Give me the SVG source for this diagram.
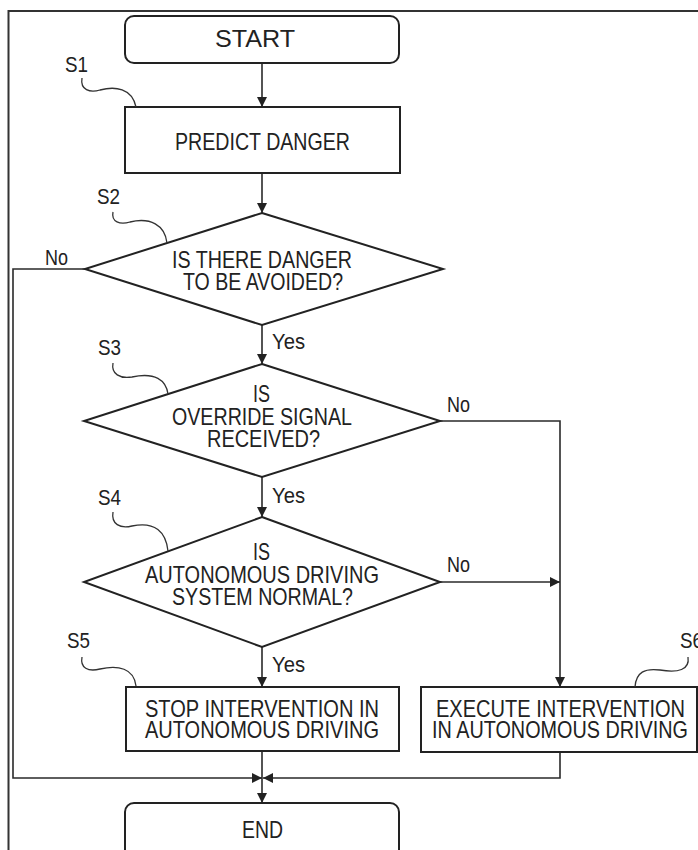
<svg xmlns="http://www.w3.org/2000/svg" width="698" height="850" viewBox="0 0 698 850">
<style>
.shape{fill:#fff;stroke:#222;stroke-width:2}
.conn{fill:none;stroke:#2a2a2a;stroke-width:1.6}
.lead{fill:none;stroke:#333;stroke-width:1.3}
text{font-family:"Liberation Sans",Arial,sans-serif;fill:#222}
.t{font-size:24px}
.l{font-size:22px}
</style>
<defs>
<marker id="arr" viewBox="0 0 10 10" refX="10" refY="5" markerWidth="10" markerHeight="10" markerUnits="userSpaceOnUse" orient="auto">
<path d="M0,0 L10,5 L0,10 Z" fill="#222"/>
</marker>
</defs>
<rect width="698" height="850" fill="#fff"/>
<g id="frame">
<path d="M8.5,850 V11 H698" fill="none" stroke="#333" stroke-width="2"/>
</g>
<g id="connectors">
<path class="conn" d="M262,63 V107" marker-end="url(#arr)"/>
<path class="conn" d="M262,173 V213" marker-end="url(#arr)"/>
<path class="conn" d="M262,325 V364" marker-end="url(#arr)"/>
<path class="conn" d="M262,477 V517" marker-end="url(#arr)"/>
<path class="conn" d="M262,647 V687" marker-end="url(#arr)"/>
<path class="conn" d="M85,269 H13 V778 H262" marker-end="url(#arr)"/>
<path class="conn" d="M440,421 H560 V687" marker-end="url(#arr)"/>
<path class="conn" d="M440,582 H560" marker-end="url(#arr)"/>
<path class="conn" d="M560,752 V778 H263" marker-end="url(#arr)"/>
<path class="conn" d="M262,751 V803" marker-end="url(#arr)"/>
<text class="l" x="45" y="265" textLength="23" lengthAdjust="spacingAndGlyphs">No</text>
<text class="l" x="272" y="349" textLength="33" lengthAdjust="spacingAndGlyphs">Yes</text>
<text class="l" x="447" y="412" textLength="23" lengthAdjust="spacingAndGlyphs">No</text>
<text class="l" x="272" y="503" textLength="33" lengthAdjust="spacingAndGlyphs">Yes</text>
<text class="l" x="447" y="572" textLength="23" lengthAdjust="spacingAndGlyphs">No</text>
<text class="l" x="272" y="672" textLength="33" lengthAdjust="spacingAndGlyphs">Yes</text>
</g>
<g id="start">
<rect class="shape" x="125" y="16" width="274" height="47" rx="9"/>
<text class="t" x="215" y="47" textLength="80" lengthAdjust="spacingAndGlyphs">START</text>
</g>
<g id="s1">
<rect class="shape" x="125" y="107" width="275" height="66"/>
<text class="t" x="175" y="150" textLength="175" lengthAdjust="spacingAndGlyphs">PREDICT DANGER</text>
<path class="lead" d="M82,78 C80,90 90,93 100,90 C115,86 132,88 136,107"/>
<text class="l" x="65" y="72" textLength="23" lengthAdjust="spacingAndGlyphs">S1</text>
</g>
<g id="s2">
<polygon class="shape" points="262,213 443,269 262,325 85,269"/>
<text class="t" x="172" y="268" textLength="180" lengthAdjust="spacingAndGlyphs">IS THERE DANGER</text>
<text class="t" x="183" y="290" textLength="160" lengthAdjust="spacingAndGlyphs">TO BE AVOIDED?</text>
<path class="lead" d="M113,212 C111,222 120,225 130,222 C150,217 165,225 167,243"/>
<text class="l" x="97" y="204" textLength="23" lengthAdjust="spacingAndGlyphs">S2</text>
</g>
<g id="s3">
<polygon class="shape" points="262,364 440,421 262,477 84,421"/>
<text class="t" x="253" y="402" textLength="17" lengthAdjust="spacingAndGlyphs">IS</text>
<text class="t" x="172" y="425" textLength="180" lengthAdjust="spacingAndGlyphs">OVERRIDE SIGNAL</text>
<text class="t" x="207" y="447" textLength="113" lengthAdjust="spacingAndGlyphs">RECEIVED?</text>
<path class="lead" d="M113,363 C111,374 120,379 132,377 C155,372 166,380 168,394"/>
<text class="l" x="98" y="355" textLength="23" lengthAdjust="spacingAndGlyphs">S3</text>
</g>
<g id="s4">
<polygon class="shape" points="262,517 440,582 262,647 84,582"/>
<text class="t" x="253" y="560" textLength="17" lengthAdjust="spacingAndGlyphs">IS</text>
<text class="t" x="145" y="583" textLength="234" lengthAdjust="spacingAndGlyphs">AUTONOMOUS DRIVING</text>
<text class="t" x="172" y="605" textLength="181" lengthAdjust="spacingAndGlyphs">SYSTEM NORMAL?</text>
<path class="lead" d="M113,512 C111,524 120,529 132,526 C155,521 166,532 168,551"/>
<text class="l" x="98" y="505" textLength="23" lengthAdjust="spacingAndGlyphs">S4</text>
</g>
<g id="s5">
<rect class="shape" x="126" y="687" width="273" height="64"/>
<text class="t" x="145" y="717" textLength="234" lengthAdjust="spacingAndGlyphs">STOP INTERVENTION IN</text>
<text class="t" x="145" y="738" textLength="234" lengthAdjust="spacingAndGlyphs">AUTONOMOUS DRIVING</text>
<path class="lead" d="M82,657 C80,668 88,672 100,669 C118,665 134,668 136,686"/>
<text class="l" x="67" y="648" textLength="23" lengthAdjust="spacingAndGlyphs">S5</text>
</g>
<g id="s6">
<rect class="shape" x="421" y="687" width="276" height="65"/>
<text class="t" x="436" y="717" textLength="249" lengthAdjust="spacingAndGlyphs">EXECUTE INTERVENTION</text>
<text class="t" x="432" y="738" textLength="256" lengthAdjust="spacingAndGlyphs">IN AUTONOMOUS DRIVING</text>
<path class="lead" d="M635,687 C636,672 645,668 660,670 C678,673 690,670 688,657"/>
<text class="l" x="680" y="648" textLength="23" lengthAdjust="spacingAndGlyphs">S6</text>
</g>
<g id="end">
<rect class="shape" x="125" y="803" width="274" height="62" rx="9"/>
<text class="t" x="242" y="838" textLength="41" lengthAdjust="spacingAndGlyphs">END</text>
</g>
</svg>
